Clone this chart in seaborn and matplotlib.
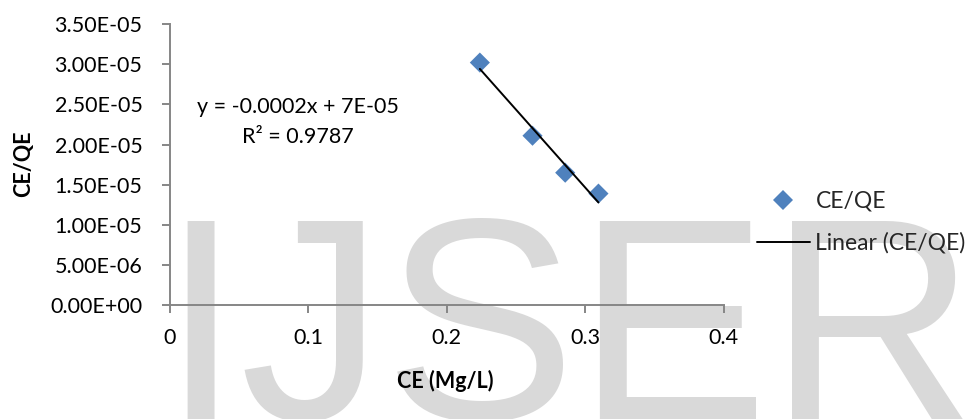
import numpy as np
import pandas as pd
import matplotlib
matplotlib.use("Agg")
import matplotlib.pyplot as plt
import seaborn as sns
from matplotlib.lines import Line2D
from matplotlib.ticker import FuncFormatter, FixedLocator

# ---------------- data ----------------
ce = [0.224, 0.262, 0.2856, 0.3096]
ce_qe = [3.02e-5, 2.11e-5, 1.65e-5, 1.39e-5]
series_label = "CE/QE"
trend_label = "Linear (CE/QE)"
equation_text = "y = -0.0002x + 7E-05\nR\u00b2 = 0.9787"
x_label = "CE (Mg/L)"
y_label = "CE/QE"
x_ticks = [0, 0.1, 0.2, 0.3, 0.4]
y_ticks = [0, 5e-6, 1e-5, 1.5e-5, 2e-5, 2.5e-5, 3e-5, 3.5e-5]
watermark = "IJSER"

df = pd.DataFrame({"CE": ce, "CEQE": ce_qe})

sns.set_theme(style="white")
plt.rcParams["font.family"] = ["Lato", "DejaVu Sans"]

W, H = 973, 419
fig = plt.figure(figsize=(W / 100, H / 100), dpi=100)
fig.patch.set_facecolor("white")

# watermark (behind chart)
fig.text(160 / W, 0.0, watermark, fontsize=207.4,
         family=["Liberation Sans", "DejaVu Sans"],
         color="#d9d9d9", ha="left", va="baseline", zorder=-10)

ax = fig.add_axes([169.5 / W, (H - 305.3) / H, (723.7 - 169.5) / W, (305.3 - 24) / H])
ax.patch.set_alpha(0)

blue = "#4F81BD"
sns.scatterplot(data=df, x="CE", y="CEQE", marker="D", s=105, color=blue,
                edgecolor="none", linewidth=0, ax=ax, zorder=3, legend=False)
sns.regplot(data=df, x="CE", y="CEQE", scatter=False, ci=None, truncate=True,
            color="black", line_kws={"linewidth": 1.4, "zorder": 4}, ax=ax)

ax.set_xlim(0, 0.4)
ax.set_ylim(0, 3.5e-5)
ax.xaxis.set_major_locator(FixedLocator(x_ticks))
ax.yaxis.set_major_locator(FixedLocator(y_ticks))
ax.xaxis.set_major_formatter(FuncFormatter(lambda v, p: "0" if abs(v) < 1e-12 else f"{v:g}"))
ax.yaxis.set_major_formatter(FuncFormatter(lambda v, p: f"{v:.2E}"))

sns.despine(ax=ax)
for s in ["left", "bottom"]:
    ax.spines[s].set_color("#868686")
    ax.spines[s].set_linewidth(1.4)
ax.tick_params(axis="both", which="major", bottom=True, left=True, direction="out",
               length=5.5, width=1.4, color="#868686", labelsize=15.5,
               labelcolor="black")
ax.tick_params(axis="y", pad=14)
ax.tick_params(axis="x", pad=11)

ax.set_xlabel(x_label, fontsize=15.5, fontweight="bold", color="black")
ax.set_ylabel(y_label, fontsize=15.5, fontweight="bold", color="black")
ax.xaxis.set_label_coords((445.5 - 169.5) / (723.7 - 169.5), (305.3 - 381) / (305.3 - 24))
ax.xaxis.label.set_verticalalignment("center")
ax.yaxis.set_label_coords(-0.264, 0.502)
ax.yaxis.label.set_verticalalignment("center")

ax.text(0.0927, 2.28e-5, equation_text, fontsize=15.5, color="black",
        ha="center", va="center", multialignment="center", linespacing=1.6)

handles = [
    Line2D([], [], marker="D", color=blue, linestyle="none", markersize=10,
           markeredgewidth=0),
    Line2D([], [], color="black", linewidth=1.4),
]
fig.legend(handles, [series_label, trend_label], loc="center left",
           bbox_to_anchor=(757 / W, 1 - (198.3 + 246) / 2 / H),
           frameon=False, fontsize=16.5, handlelength=2.3, handletextpad=0.25,
           labelspacing=0.9, borderpad=0, borderaxespad=0)

fig.savefig("out.png", dpi=100, facecolor="white")
